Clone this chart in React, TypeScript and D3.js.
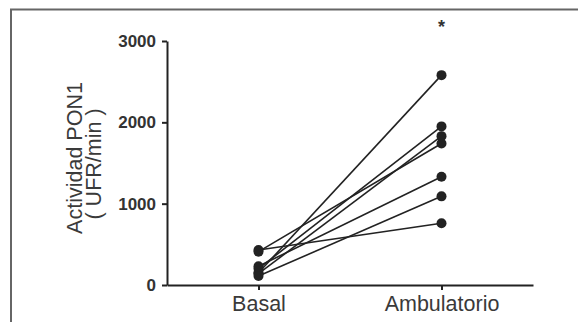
import React, { useEffect, useRef } from "react";
import * as d3 from "d3";

// paired measurements per subject
const groups = ["Basal", "Ambulatorio"];
const basal = [430, 410, 150, 200, 140, 230, 110];
const ambulatorio = [760, 1740, 2580, 1950, 1830, 1330, 1090];
const yTicks = [0, 1000, 2000, 3000];
const yLabel = ["Actividad PON1", "( UFR/min )"];

const App: React.FC = () => {
  const svgRef = useRef<SVGSVGElement>(null);
  const width = 578;
  const height = 322;

  useEffect(() => {
    if (!svgRef.current) return;
    const svg = d3.select(svgRef.current);
    svg.selectAll("*").remove();

    const x0 = 167, x1 = 533, y0 = 285, y1 = 41;
    const ink = "#222";
    const font = "'Liberation Sans', Arial, sans-serif";

    const xScale = d3.scalePoint<string>().domain(groups).range([x0, x1]).padding(0.5);
    const yScale = d3.scaleLinear().domain([0, 3000]).range([y0, y1]);

    // frame
    svg.append("rect")
      .attr("x", 11).attr("y", 9.5)
      .attr("width", 600).attr("height", 340)
      .attr("fill", "none")
      .attr("stroke", "#666")
      .attr("stroke-width", 2);

    // y axis
    const yAxis = svg.append("g")
      .attr("transform", `translate(${x0},0)`)
      .call(d3.axisLeft(yScale).tickValues(yTicks).tickFormat(d3.format("d"))
        .tickSize(5).tickPadding(6).tickSizeOuter(0));
    yAxis.select(".domain").attr("stroke", ink).attr("stroke-width", 2);
    yAxis.selectAll(".tick line").attr("stroke", ink).attr("stroke-width", 2);
    yAxis.selectAll("text")
      .attr("fill", "#333")
      .style("font-family", font)
      .style("font-size", "17px")
      .style("font-weight", "bold");

    // x axis
    const xAxis = svg.append("g")
      .attr("transform", `translate(0,${y0})`)
      .call(d3.axisBottom(xScale).tickSize(5).tickPadding(6).tickSizeOuter(0));
    xAxis.select(".domain").attr("stroke", ink).attr("stroke-width", 2);
    xAxis.selectAll(".tick line").attr("stroke", ink).attr("stroke-width", 2);
    xAxis.selectAll("text")
      .attr("fill", "#3a3a3a")
      .style("font-family", font)
      .style("font-size", "21.5px");

    // y label
    const yl = svg.append("text")
      .attr("transform", "translate(82,158) rotate(-90)")
      .attr("text-anchor", "middle")
      .attr("fill", "#3a3a3a")
      .style("font-family", font)
      .style("font-size", "21.5px");
    yl.append("tspan").attr("x", 0).attr("y", 0).text(yLabel[0]);
    yl.append("tspan").attr("x", -6).attr("y", 19).text(yLabel[1]);

    // paired lines
    const pairs = basal.map((b, i) => [b, ambulatorio[i]]);
    svg.append("g")
      .selectAll("line")
      .data(pairs)
      .join("line")
      .attr("x1", xScale(groups[0])!)
      .attr("x2", xScale(groups[1])!)
      .attr("y1", d => yScale(d[0]))
      .attr("y2", d => yScale(d[1]))
      .attr("stroke", ink)
      .attr("stroke-width", 1.6);

    const pts = groups.flatMap((g, gi) =>
      (gi === 0 ? basal : ambulatorio).map(v => ({ g, v }))
    );
    svg.append("g")
      .selectAll("circle")
      .data(pts)
      .join("circle")
      .attr("cx", d => xScale(d.g)!)
      .attr("cy", d => yScale(d.v))
      .attr("r", 5)
      .attr("fill", ink);

    // significance mark
    svg.append("text")
      .attr("x", xScale(groups[1])!)
      .attr("y", 33)
      .attr("text-anchor", "middle")
      .attr("fill", "#333")
      .style("font-family", font)
      .style("font-size", "18px")
      .style("font-weight", "bold")
      .text("*");
  }, []);

  return (
    <svg
      ref={svgRef}
      width={width}
      height={height}
      style={{ position: "absolute", left: 0, top: 0, background: "#fff" }}
    />
  );
};

export default App;
